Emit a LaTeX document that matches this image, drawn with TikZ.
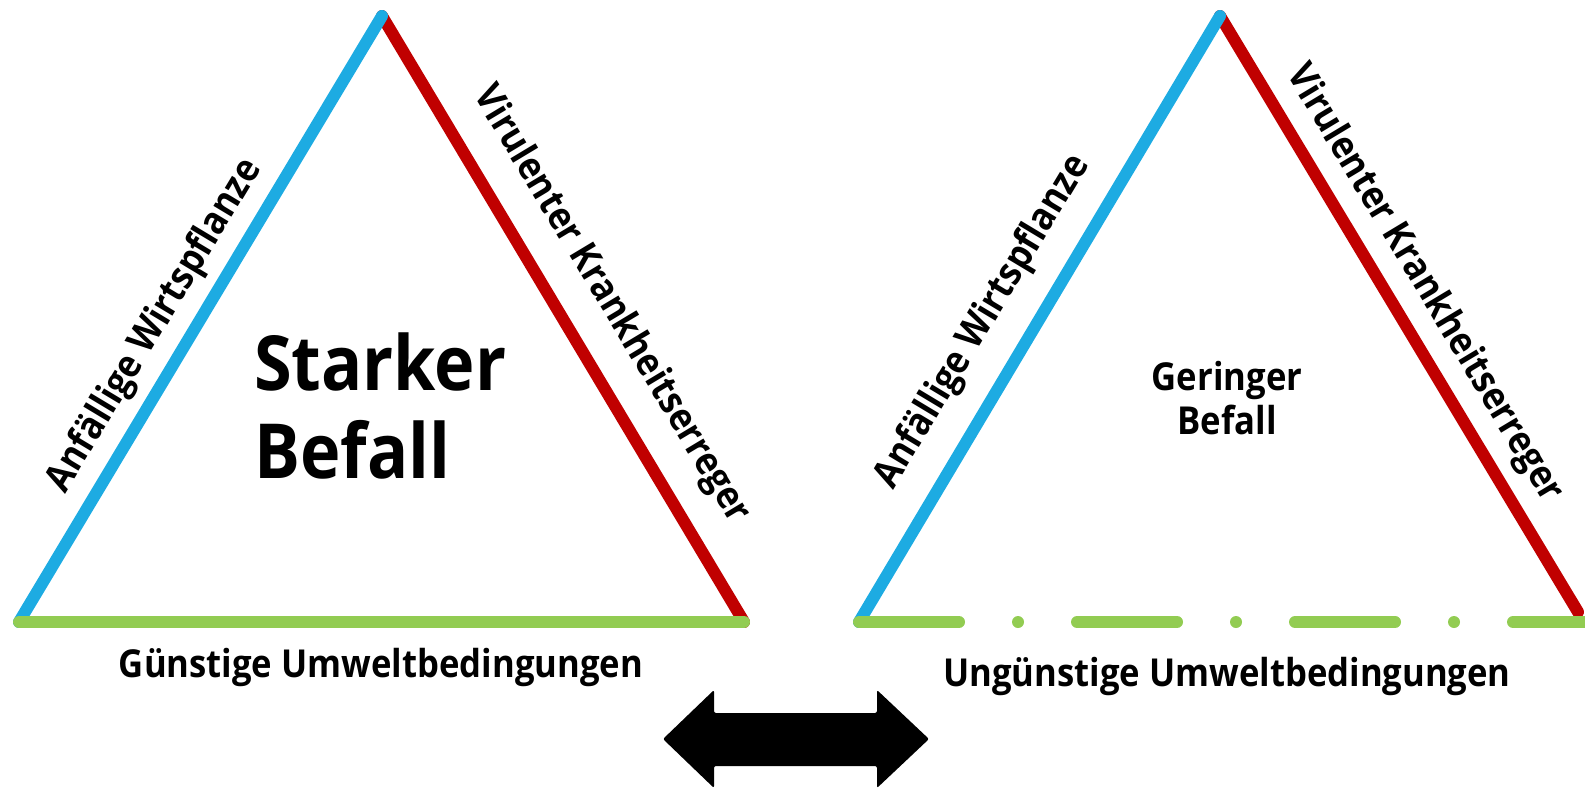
\documentclass[tikz,border=0pt]{standalone}
\usepackage{fontspec}
\setmainfont{Open Sans}[FakeStretch=0.9]
\definecolor{hostblue}{RGB}{29,171,226}
\definecolor{pathred}{RGB}{192,0,0}
\definecolor{envgreen}{RGB}{146,204,82}
\begin{document}
\begin{tikzpicture}[x=1pt,y=-1pt,
  side/.style={line width=12pt,line cap=round},
  lbl/.style={font=\bfseries\fontsize{38.5}{44}\selectfont,inner sep=0pt},
  big/.style={font=\bfseries\fontsize{76}{88}\selectfont,inner sep=0pt,align=left},
  small/.style={font=\bfseries\fontsize{38.5}{44}\selectfont,inner sep=0pt,align=center}]
\useasboundingbox (0,0) rectangle (1585,788);
% left triangle corners
\coordinate (LA) at (382,16);
\coordinate (LL) at (19,622);
\coordinate (LR) at (744,622);
% right triangle corners
\coordinate (RA) at (1220,16);
\coordinate (RL) at (859,622);
\coordinate (RR) at (1578,612);
\coordinate (RE) at (1585,622);
% left triangle
\draw[side,pathred] (LA) -- (LR);
\draw[side,hostblue] (LL) -- (LA);
\draw[side,envgreen] (LL) -- (LR);
% right triangle
\draw[side,pathred] (RA) -- (RR);
\draw[side,hostblue] (RL) -- (RA);
\draw[side,envgreen,dash pattern=on 100pt off 59pt on 0pt off 59pt] (RL) -- (RE);
% side labels
\node[lbl,rotate=59] (lh) at (155,326) {Anfällige Wirtspflanze};
\node[lbl,rotate=-59] (lp) at (611,305) {Virulenter Krankheitserreger};
\node[lbl,rotate=59] (rh) at (983,322) {Anfällige Wirtspflanze};
\node[lbl,rotate=-59] (rp) at (1424,284) {Virulenter Krankheitserreger};
% bottom labels
\node[lbl] (le) at (381,667) {Günstige Umweltbedingungen};
\node[lbl] (re) at (1227,676) {Ungünstige Umweltbedingungen};
% centre texts
\node[big,anchor=base west] (sb) at (254,478) {Starker\\Befall};
\node[small,anchor=base] (gb) at (1227,434) {Geringer\\Befall};
% double arrow
\fill[black,rounded corners=2pt] (663,739) -- (714,690) -- (714,713) -- (877,713) -- (877,690) -- (929,739) -- (877,788) -- (877,766) -- (714,766) -- (714,788) -- cycle;
\end{tikzpicture}
\end{document}
